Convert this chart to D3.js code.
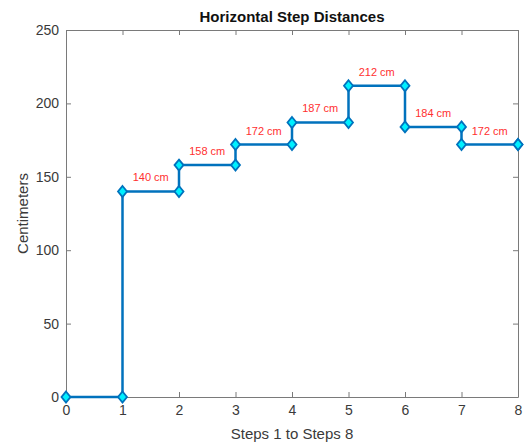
<!DOCTYPE html>
<html>
<head>
<meta charset="utf-8">
<script src="https://cdn.jsdelivr.net/npm/d3@7"></script>
<style>
  body { margin: 0; background: #fff; }
  svg { display: block; font-family: "Liberation Sans", Arial, sans-serif; }
</style>
</head>
<body>
<div id="chart"></div>
<script>
// step index and distance (cm) for each step
const steps = [0, 1, 2, 3, 4, 5, 6, 7, 8]
const distances = [0, 140, 158, 172, 187, 212, 184, 172, 172]
const xTicks = [0, 1, 2, 3, 4, 5, 6, 7, 8]
const yTicks = [0, 50, 100, 150, 200, 250]

const svg_width = 524,
    svg_height = 443

const margin = { top: 30, right: 6, bottom: 46, left: 66 },
    graph_width = svg_width - margin.left - margin.right,
    graph_height = svg_height - margin.top - margin.bottom

const axisColor = '#7a7a7a',
    textColor = '#3a3a3a',
    lineColor = '#0072BD',
    markerFill = '#00F0FF'

let svg = d3.select('#chart')
    .append('svg')
    .attr('width', svg_width)
    .attr('height', svg_height)

let g = svg.append('g')
    .attr('transform', 'translate(' + margin.left + ',' + margin.top + ')')

let xScale = d3.scaleLinear().domain([0, 8]).range([0, graph_width]),
    yScale = d3.scaleLinear().domain([0, 250]).range([graph_height, 0])

// axes (ticks point inward like matlab, box on all four sides)
function styleAxis(sel) {
    sel.select('.domain').attr('stroke', axisColor)
    sel.selectAll('.tick line').attr('stroke', axisColor)
    sel.selectAll('.tick text').attr('fill', textColor).attr('font-size', 14)
}

g.append('g')
    .attr('transform', 'translate(0,' + graph_height + ')')
    .call(d3.axisBottom(xScale).tickValues(xTicks).tickSizeInner(-5).tickSizeOuter(0).tickPadding(8))
    .call(styleAxis)

g.append('g')
    .call(d3.axisTop(xScale).tickValues(xTicks).tickSizeInner(-5).tickSizeOuter(0).tickFormat(''))
    .call(styleAxis)

g.append('g')
    .call(d3.axisLeft(yScale).tickValues(yTicks).tickSizeInner(-5).tickSizeOuter(0).tickPadding(7))
    .call(styleAxis)

g.append('g')
    .attr('transform', 'translate(' + graph_width + ',0)')
    .call(d3.axisRight(yScale).tickValues(yTicks).tickSizeInner(-5).tickSizeOuter(0).tickFormat(''))
    .call(styleAxis)

// stairs line
let data = steps.map((s, i) => ({ x: s, y: distances[i] }))

let line = d3.line()
    .x(d => xScale(d.x))
    .y(d => yScale(d.y))
    .curve(d3.curveStepAfter)

g.append('path')
    .datum(data)
    .attr('fill', 'none')
    .attr('stroke', lineColor)
    .attr('stroke-width', 2.5)
    .attr('d', line)

// markers sit on every corner of the stairs
let corners = []
data.forEach((d, i) => {
    if (i > 0) corners.push({ x: d.x, y: data[i - 1].y })
    corners.push(d)
})

let diamond = 'M0,-5.5L4.5,0L0,5.5L-4.5,0Z'
g.selectAll('.marker')
    .data(corners)
    .enter()
    .append('path')
    .attr('class', 'marker')
    .attr('d', diamond)
    .attr('transform', d => 'translate(' + xScale(d.x) + ',' + yScale(d.y) + ')')
    .attr('fill', markerFill)
    .attr('stroke', lineColor)
    .attr('stroke-width', 1.8)

// distance labels over each step (skip the first flat one at 0)
g.selectAll('.dist')
    .data(data.slice(1, data.length - 1))
    .enter()
    .append('text')
    .attr('class', 'dist')
    .attr('x', d => xScale(d.x + 0.5))
    .attr('y', d => yScale(d.y) - 10)
    .attr('text-anchor', 'middle')
    .attr('font-size', 11)
    .attr('fill', '#ff3030')
    .text(d => d.y + ' cm')

// title and labels
svg.append('text')
    .attr('x', margin.left + graph_width / 2)
    .attr('y', 22)
    .attr('text-anchor', 'middle')
    .attr('font-size', 15)
    .attr('font-weight', 'bold')
    .attr('fill', '#111')
    .text('Horizontal Step Distances')

svg.append('text')
    .attr('x', margin.left + graph_width / 2)
    .attr('y', 439)
    .attr('text-anchor', 'middle')
    .attr('font-size', 15)
    .attr('fill', textColor)
    .text('Steps 1 to Steps 8')

svg.append('text')
    .attr('transform', 'translate(28,' + (margin.top + graph_height / 2) + ') rotate(-90)')
    .attr('text-anchor', 'middle')
    .attr('font-size', 15)
    .attr('fill', textColor)
    .text('Centimeters')
</script>
</body>
</html>
